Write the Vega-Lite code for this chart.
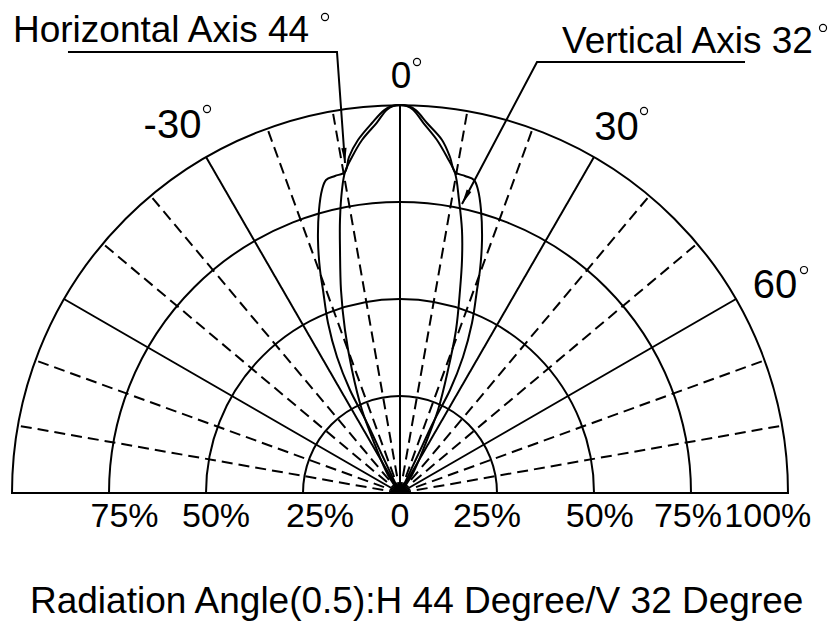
{
  "$schema": "https://vega.github.io/schema/vega-lite/v6.json",
  "width": 830,
  "height": 630,
  "autosize": {"type": "none"},
  "padding": 0,
  "background": "white",
  "config": {"view": {"stroke": null}, "text": {"font": "Liberation Sans", "color": "black"}},
  "datasets": {
    "spokes": [
      {"angle": -90, "style": "solid", "r": 0}, {"angle": -90, "style": "solid", "r": 100},
      {"angle": -80, "style": "dashed", "r": 0}, {"angle": -80, "style": "dashed", "r": 100},
      {"angle": -70, "style": "dashed", "r": 0}, {"angle": -70, "style": "dashed", "r": 100},
      {"angle": -60, "style": "solid", "r": 0}, {"angle": -60, "style": "solid", "r": 100},
      {"angle": -50, "style": "dashed", "r": 0}, {"angle": -50, "style": "dashed", "r": 100},
      {"angle": -40, "style": "dashed", "r": 0}, {"angle": -40, "style": "dashed", "r": 100},
      {"angle": -30, "style": "solid", "r": 0}, {"angle": -30, "style": "solid", "r": 100},
      {"angle": -20, "style": "dashed", "r": 0}, {"angle": -20, "style": "dashed", "r": 100},
      {"angle": -10, "style": "dashed", "r": 0}, {"angle": -10, "style": "dashed", "r": 100},
      {"angle": 0, "style": "solid", "r": 0}, {"angle": 0, "style": "solid", "r": 100},
      {"angle": 10, "style": "dashed", "r": 0}, {"angle": 10, "style": "dashed", "r": 100},
      {"angle": 20, "style": "dashed", "r": 0}, {"angle": 20, "style": "dashed", "r": 100},
      {"angle": 30, "style": "solid", "r": 0}, {"angle": 30, "style": "solid", "r": 100},
      {"angle": 40, "style": "dashed", "r": 0}, {"angle": 40, "style": "dashed", "r": 100},
      {"angle": 50, "style": "dashed", "r": 0}, {"angle": 50, "style": "dashed", "r": 100},
      {"angle": 60, "style": "solid", "r": 0}, {"angle": 60, "style": "solid", "r": 100},
      {"angle": 70, "style": "dashed", "r": 0}, {"angle": 70, "style": "dashed", "r": 100},
      {"angle": 80, "style": "dashed", "r": 0}, {"angle": 80, "style": "dashed", "r": 100},
      {"angle": 90, "style": "solid", "r": 0}, {"angle": 90, "style": "solid", "r": 100}
    ],
    "circles": [{"r": 25, "x": 0, "y": 0}, {"r": 50, "x": 0, "y": 0}, {"r": 75, "x": 0, "y": 0}, {"r": 100, "x": 0, "y": 0}],
    "curves": [
      {"s": "H", "i": 0, "a": -25, "r": 0}, {"s": "H", "i": 1, "a": -25.3, "r": 10.26}, {"s": "H", "i": 2, "a": -25.2, "r": 19.95},
      {"s": "H", "i": 3, "a": -25.9, "r": 29.51}, {"s": "H", "i": 4, "a": -24.85, "r": 38.63}, {"s": "H", "i": 5, "a": -22.95, "r": 47.58},
      {"s": "H", "i": 6, "a": -20.77, "r": 55.96}, {"s": "H", "i": 7, "a": -19.73, "r": 61.06}, {"s": "H", "i": 8, "a": -17.96, "r": 68.55},
      {"s": "H", "i": 9, "a": -15.97, "r": 75.87}, {"s": "H", "i": 10, "a": -14.44, "r": 80.64}, {"s": "H", "i": 11, "a": -13.3, "r": 82.89},
      {"s": "H", "i": 12, "a": -11.59, "r": 83.4}, {"s": "H", "i": 13, "a": -9.72, "r": 83.94}, {"s": "H", "i": 14, "a": -8.63, "r": 87.59},
      {"s": "H", "i": 15, "a": -6.79, "r": 91.62}, {"s": "H", "i": 16, "a": -4.33, "r": 95.63}, {"s": "H", "i": 17, "a": -2.4, "r": 98.7},
      {"s": "H", "i": 18, "a": -1.2, "r": 99.75}, {"s": "H", "i": 19, "a": 0, "r": 100}, {"s": "H", "i": 20, "a": 1.2, "r": 99.75},
      {"s": "H", "i": 21, "a": 2.4, "r": 98.7}, {"s": "H", "i": 22, "a": 4.17, "r": 95.61},
      {"s": "H", "i": 23, "a": 6.79, "r": 91.62}, {"s": "H", "i": 24, "a": 8.46, "r": 87.55}, {"s": "H", "i": 25, "a": 9.72, "r": 83.94},
      {"s": "H", "i": 26, "a": 11.59, "r": 83.4}, {"s": "H", "i": 27, "a": 13.3, "r": 82.89}, {"s": "H", "i": 28, "a": 14.44, "r": 80.64},
      {"s": "H", "i": 29, "a": 15.97, "r": 75.87}, {"s": "H", "i": 30, "a": 17.96, "r": 68.55}, {"s": "H", "i": 31, "a": 19.73, "r": 61.06},
      {"s": "H", "i": 32, "a": 20.77, "r": 55.96}, {"s": "H", "i": 33, "a": 22.95, "r": 47.58}, {"s": "H", "i": 34, "a": 24.85, "r": 38.63},
      {"s": "H", "i": 35, "a": 25.9, "r": 29.51}, {"s": "H", "i": 36, "a": 25.2, "r": 19.95}, {"s": "H", "i": 37, "a": 25.3, "r": 10.26},
      {"s": "H", "i": 38, "a": 25, "r": 0},
      {"s": "V", "i": 0, "a": -34, "r": 0}, {"s": "V", "i": 1, "a": -33.7, "r": 5.58}, {"s": "V", "i": 2, "a": -27.5, "r": 13.95},
      {"s": "V", "i": 3, "a": -24.6, "r": 23.53}, {"s": "V", "i": 4, "a": -21.32, "r": 34.03}, {"s": "V", "i": 5, "a": -18.65, "r": 44.34},
      {"s": "V", "i": 6, "a": -16.21, "r": 54.48}, {"s": "V", "i": 7, "a": -13.87, "r": 64.51}, {"s": "V", "i": 8, "a": -12.4, "r": 72.04},
      {"s": "V", "i": 9, "a": -10.84, "r": 79.51}, {"s": "V", "i": 10, "a": -9.72, "r": 83.94}, {"s": "V", "i": 11, "a": -8.13, "r": 87.48},
      {"s": "V", "i": 12, "a": -6.14, "r": 91.51}, {"s": "V", "i": 13, "a": -3.6, "r": 95.6}, {"s": "V", "i": 14, "a": -2.0, "r": 98.8},
      {"s": "V", "i": 15, "a": -1.0, "r": 99.75}, {"s": "V", "i": 16, "a": 0, "r": 100}, {"s": "V", "i": 17, "a": 1.0, "r": 99.75},
      {"s": "V", "i": 18, "a": 2.0, "r": 98.8}, {"s": "V", "i": 19, "a": 3.6, "r": 95.6},
      {"s": "V", "i": 20, "a": 5.98, "r": 91.48}, {"s": "V", "i": 21, "a": 7.96, "r": 87.44}, {"s": "V", "i": 22, "a": 9.75, "r": 83.68},
      {"s": "V", "i": 23, "a": 11.38, "r": 77.03}, {"s": "V", "i": 24, "a": 13.26, "r": 69.64}, {"s": "V", "i": 25, "a": 14.9, "r": 62.14},
      {"s": "V", "i": 26, "a": 16.47, "r": 54.56}, {"s": "V", "i": 27, "a": 18.96, "r": 44.42}, {"s": "V", "i": 28, "a": 21.32, "r": 34.03},
      {"s": "V", "i": 29, "a": 24.6, "r": 23.53}, {"s": "V", "i": 30, "a": 27.5, "r": 13.95}, {"s": "V", "i": 31, "a": 33.7, "r": 5.58},
      {"s": "V", "i": 32, "a": 34, "r": 0}
    ],
    "leaders": [
      {"id": "H", "i": 0, "x": -85.57, "y": 113.66}, {"id": "H", "i": 1, "x": -16.24, "y": 113.66}, {"id": "H", "i": 2, "x": -14.18, "y": 85.05},
      {"id": "V", "i": 0, "x": 88.92, "y": 111.08}, {"id": "V", "i": 1, "x": 35.31, "y": 111.08}, {"id": "V", "i": 2, "x": 15.98, "y": 74.48}
    ],
    "arrows": [
      {"id": "H", "x": -14.31, "y": 86.98, "dir": -4.1},
      {"id": "V", "x": 16.88, "y": 76.19, "dir": 27.9}
    ],
    "axisLabels": [
      {"t": "75%", "x": -71.0, "y": -8.76}, {"t": "50%", "x": -47.4, "y": -8.76}, {"t": "25%", "x": -20.6, "y": -8.76},
      {"t": "0", "x": 0, "y": -8.76}, {"t": "25%", "x": 22.4, "y": -8.76}, {"t": "50%", "x": 51.5, "y": -8.76},
      {"t": "75%", "x": 74.2, "y": -8.76}, {"t": "100%", "x": 94.8, "y": -8.76}
    ],
    "angleLabels": [
      {"t": "-30", "x": -58.63, "y": 91.49}, {"t": "30", "x": 55.8, "y": 90.98}, {"t": "60", "x": 96.65, "y": 50.26}
    ],
    "zeroLabel": [{"t": "0", "x": 0.26, "y": 104.38}],
    "notes": [
      {"t": "Horizontal Axis 44", "x": -99.74, "y": 116.24},
      {"t": "Vertical Axis 32", "x": 41.75, "y": 113.4}
    ],
    "title": [{"t": "Radiation Angle(0.5):H 44 Degree/V 32 Degree", "x": -95.36, "y": -30.93}],
    "degrees": [
      {"x": -19.33, "y": 122.68}, {"x": 109.02, "y": 119.85}, {"x": 4.38, "y": 111.08},
      {"x": -49.74, "y": 98.97}, {"x": 62.89, "y": 98.45}, {"x": 104.12, "y": 57.47}
    ]
  },
  "encoding": {
    "x": {"field": "x", "type": "quantitative", "scale": {"domain": [-103.09, 110.82], "nice": false, "zero": false}, "axis": null},
    "y": {"field": "y", "type": "quantitative", "scale": {"domain": [-35.31, 127.06], "nice": false, "zero": false}, "axis": null}
  },
  "layer": [
    {
      "data": {"name": "circles"},
      "mark": {"type": "arc", "theta": -1.5707963, "theta2": 1.5707963, "filled": false, "stroke": "black", "strokeWidth": 2},
      "encoding": {
        "radius": {"field": "r", "type": "quantitative", "stack": null, "scale": {"type": "linear", "domain": [0, 100], "range": [0, 388], "zero": true}}
      }
    },
    {
      "data": {"name": "spokes"},
      "transform": [
        {"calculate": "datum.r * sin(datum.angle * PI / 180)", "as": "x"},
        {"calculate": "datum.r * cos(datum.angle * PI / 180)", "as": "y"}
      ],
      "mark": {"type": "line", "strokeWidth": 2, "color": "black"},
      "encoding": {
        "detail": {"field": "angle", "type": "nominal"},
        "order": {"field": "r", "type": "quantitative"},
        "strokeDash": {"field": "style", "type": "nominal", "scale": {"domain": ["solid", "dashed"], "range": [[1, 0], [11, 6]]}, "legend": null}
      }
    },
    {
      "data": {"name": "curves"},
      "transform": [
        {"calculate": "datum.r * sin(datum.a * PI / 180)", "as": "x"},
        {"calculate": "datum.r * cos(datum.a * PI / 180)", "as": "y"}
      ],
      "mark": {"type": "line", "color": "black", "strokeWidth": 2, "interpolate": "catmull-rom"},
      "encoding": {
        "detail": {"field": "s", "type": "nominal"},
        "order": {"field": "i", "type": "quantitative"}
      }
    },
    {
      "data": {"name": "leaders"},
      "mark": {"type": "line", "color": "black", "strokeWidth": 2},
      "encoding": {
        "detail": {"field": "id", "type": "nominal"},
        "order": {"field": "i", "type": "quantitative"}
      }
    },
    {
      "data": {"name": "arrows"},
      "mark": {"type": "point", "shape": "M0,1L-0.35,-1L0.35,-1Z", "filled": true, "color": "black", "opacity": 1, "size": 225},
      "encoding": {
        "angle": {"field": "dir", "type": "quantitative", "scale": null}
      }
    },
    {
      "data": {"name": "degrees"},
      "mark": {"type": "point", "shape": "circle", "filled": false, "stroke": "black", "strokeWidth": 1.2, "opacity": 1, "size": 50}
    },
    {
      "data": {"name": "axisLabels"},
      "mark": {"type": "text", "fontSize": 34, "align": "center", "baseline": "alphabetic"},
      "encoding": {"text": {"field": "t"}}
    },
    {
      "data": {"name": "angleLabels"},
      "mark": {"type": "text", "fontSize": 40, "align": "center", "baseline": "alphabetic"},
      "encoding": {"text": {"field": "t"}}
    },
    {
      "data": {"name": "zeroLabel"},
      "mark": {"type": "text", "fontSize": 37, "align": "center", "baseline": "alphabetic"},
      "encoding": {"text": {"field": "t"}}
    },
    {
      "data": {"name": "notes"},
      "mark": {"type": "text", "fontSize": 37, "align": "left", "baseline": "alphabetic"},
      "encoding": {"text": {"field": "t"}}
    },
    {
      "data": {"name": "title"},
      "mark": {"type": "text", "fontSize": 37, "align": "left", "baseline": "alphabetic"},
      "encoding": {"text": {"field": "t"}}
    }
  ]
}
